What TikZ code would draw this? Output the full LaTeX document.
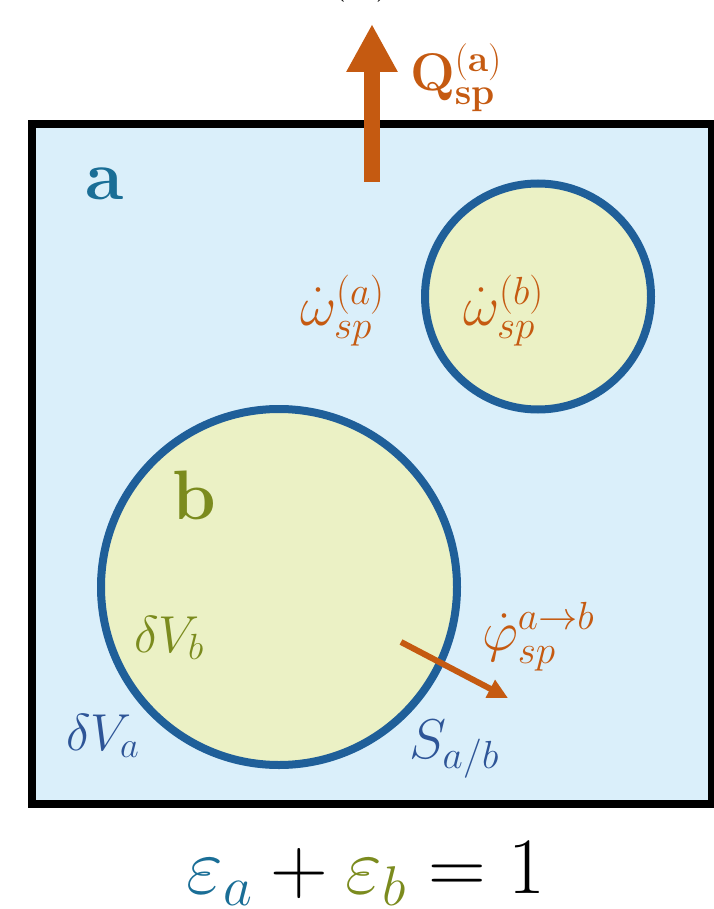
\RequirePackage{fix-cm}
\documentclass[tikz,border=0pt]{standalone}
\usetikzlibrary{arrows.meta}
\definecolor{boxfill}{RGB}{218,239,250}
\definecolor{cirfill}{RGB}{235,241,197}
\definecolor{cirline}{RGB}{31,95,153}
\definecolor{orng}{RGB}{197,90,17}
\definecolor{teal}{RGB}{26,110,150}
\definecolor{olive}{RGB}{123,139,30}
\definecolor{dblue}{RGB}{46,85,151}
\begin{document}
\begin{tikzpicture}[x=1pt,y=-1pt,
  lbl/.style={inner sep=0pt, outer sep=0pt, anchor=base west},
  mlbl/.style={lbl, font=\fontsize{56}{60}\selectfont},
  dlbl/.style={lbl, font=\fontsize{52}{55}\selectfont},
  phase/.style={circle, draw=cirline, fill=cirfill, line width=8pt, inner sep=0pt, outer sep=0pt}]
\useasboundingbox (0,0) rectangle (713,909);
\begin{scope}
  \clip (0,0) rectangle (713,909);
  \node[inner sep=0pt, anchor=base, font=\fontsize{55}{60}\selectfont] (toplbl) at (361,-11) {$(\hphantom{a})$};
\end{scope}
% domain box
\draw[line width=8pt, fill=boxfill] (32,124.5) rectangle (712,804);
% phase b inclusions
\node[phase, minimum size=226pt] (smallc) at (538,296.5) {};
\node[phase, minimum size=356pt] (bigc) at (279,587) {};
% heat flux arrow
\coordinate (qbase) at (372,182);
\coordinate (qtip) at (372,24);
\draw[orng, line width=16pt, -{Triangle[length=48pt,width=48pt]}] (qbase) -- (qtip);
\node[lbl, text=orng, font=\fontsize{53}{56}\selectfont] (qlbl) at (410,91) {$\mathbf{Q}_{\mathbf{sp}}^{\mathbf{(a)}}$};
% phase labels
\node[lbl, text=teal, font=\fontsize{70}{70}\selectfont\bfseries] (alabel) at (85,200) {a};
\node[lbl, text=olive, font=\fontsize{70}{70}\selectfont\bfseries] (blabel) at (172,519) {b};
% source terms
\node[mlbl, text=orng] (wa) at (300,325) {$\dot{\omega}_{sp}^{(a)}$};
\node[mlbl, text=orng] (wb) at (463,325) {$\dot{\omega}_{sp}^{(b)}$};
\node[mlbl, text=orng] (phi) at (482,650) {$\dot{\varphi}_{sp}^{a\to b}$};
% interface flux arrow
\coordinate (fs) at (401,642);
\coordinate (fe) at (508,698);
\draw[orng, line width=6pt, -{Triangle[length=20pt,width=19pt]}] (fs) -- (fe);
% volumes and surface
\node[dlbl, text=olive] (dvb) at (134,652) {$\delta V_b$};
\node[dlbl, text=dblue] (dva) at (66,750) {$\delta V_a$};
\node[mlbl, text=dblue] (sab) at (409,758) {$S_{a/b}$};
% closure
\node[inner sep=0pt, anchor=base, font=\fontsize{80}{84}\selectfont] (eq) at (366,893)
  {$\textcolor{teal}{\varepsilon_a} + \textcolor{olive}{\varepsilon_b} = 1$};
\end{tikzpicture}
\end{document}
